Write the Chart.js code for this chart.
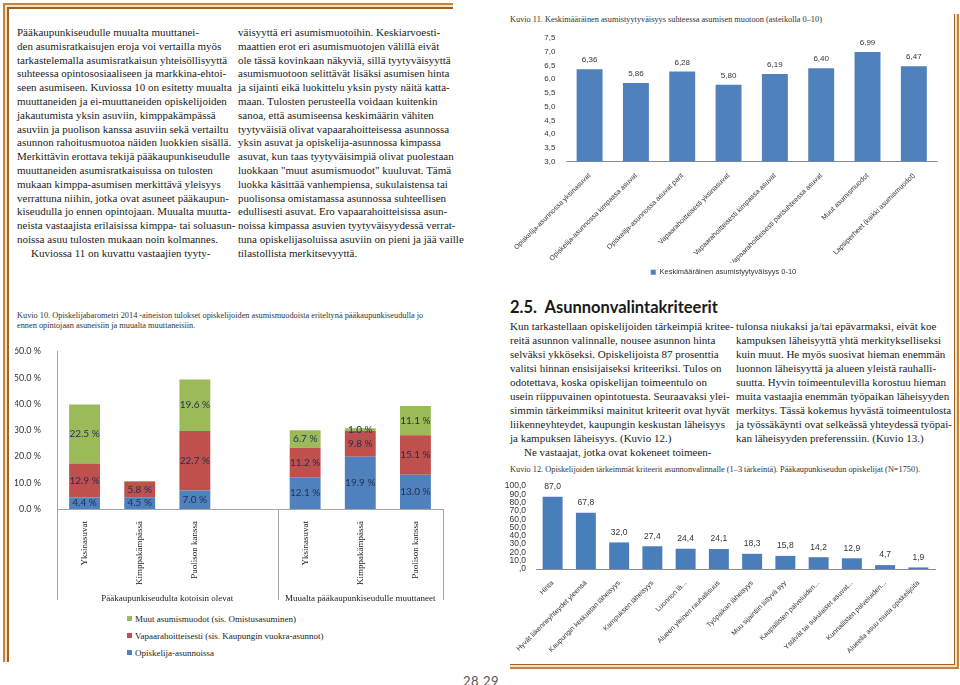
<!DOCTYPE html>
<html lang="fi">
<head>
<meta charset="utf-8">
<script src="https://cdn.jsdelivr.net/npm/chart.js@4.4.1/dist/chart.umd.min.js"></script>
<style>
html, body { margin: 0; padding: 0; background: #fff; }
body { width: 960px; height: 685px; position: relative; overflow: hidden; font-family: "Liberation Serif", serif; color: #222; }
.ln { position: absolute; }
.col { position: absolute; font-size: 11px; line-height: 13.8px; }
.col div { white-space: nowrap; }
.col div.i { padding-left: 14px; }
.cap { position: absolute; font-size: 8.3px; line-height: 9.5px; color: #333; white-space: nowrap; }
.box { position: absolute; }
h2 { position: absolute; margin: 0; font-family: Lato, sans-serif; font-weight: bold; font-size: 16.5px; color: #1a1a1a; white-space: pre; }
.pg { position: absolute; font-family: Lato, sans-serif; font-size: 13px; color: #555; letter-spacing: 0.5px; }
#k10legend { position: absolute; left: 127px; top: 611px; font-size: 9px; line-height: 17px; color: #222; }
#k10legend span.sw { display: inline-block; width: 5px; height: 5px; margin-right: 3px; vertical-align: 1px; }
</style>
</head>
<body>

<!-- kehykset -->
<div class="ln" style="left:3px;top:3px;width:450px;height:2px;background:#c4833c"></div>
<div class="ln" style="left:5px;top:5px;width:448px;height:2px;background:#f3e2bd"></div>
<div class="ln" style="left:7px;top:7px;width:446px;height:1.5px;background:#a35f22"></div>
<div class="ln" style="left:3px;top:3px;width:2px;height:659px;background:#c4833c"></div>
<div class="ln" style="left:5px;top:5px;width:2px;height:657px;background:#f3e2bd"></div>
<div class="ln" style="left:7px;top:7px;width:1.5px;height:655px;background:#a35f22"></div>

<div class="ln" style="left:957px;top:14px;width:2px;height:655px;background:#c4833c"></div>
<div class="ln" style="left:955px;top:14px;width:2px;height:653px;background:#f3e2bd"></div>
<div class="ln" style="left:953.5px;top:14px;width:1.5px;height:651px;background:#a35f22"></div>
<div class="ln" style="left:510px;top:667px;width:449px;height:2px;background:#c4833c"></div>
<div class="ln" style="left:510px;top:665px;width:447px;height:2px;background:#f3e2bd"></div>
<div class="ln" style="left:510px;top:663.5px;width:445px;height:1.5px;background:#a35f22"></div>

<div class="col" style="left:17px;top:26px">
<div>Pääkaupunkiseudulle muualta muuttanei-</div>
<div>den asumisratkaisujen eroja voi vertailla myös</div>
<div>tarkastelemalla asumisratkaisun yhteisöllisyyttä</div>
<div>suhteessa opintososiaaliseen ja markkina-ehtoi-</div>
<div>seen asumiseen. Kuviossa 10 on esitetty muualta</div>
<div>muuttaneiden ja ei-muuttaneiden opiskelijoiden</div>
<div>jakautumista yksin asuviin, kimppakämpässä</div>
<div>asuviin ja puolison kanssa asuviin sekä vertailtu</div>
<div>asunnon rahoitusmuotoa näiden luokkien sisällä.</div>
<div>Merkittävin erottava tekijä pääkaupunkiseudulle</div>
<div>muuttaneiden asumisratkaisuissa on tulosten</div>
<div>mukaan kimppa-asumisen merkittävä yleisyys</div>
<div>verrattuna niihin, jotka ovat asuneet pääkaupun-</div>
<div>kiseudulla jo ennen opintojaan. Muualta muutta-</div>
<div>neista vastaajista erilaisissa kimppa- tai soluasun-</div>
<div>noissa asuu tulosten mukaan noin kolmannes.</div>
<div class="i">Kuviossa 11 on kuvattu vastaajien tyyty-</div>
</div>

<div class="col" style="left:238px;top:26px">
<div>väisyyttä eri asumismuotoihin. Keskiarvoesti-</div>
<div>maattien erot eri asumismuotojen välillä eivät</div>
<div>ole tässä kovinkaan näkyviä, sillä tyytyväisyyttä</div>
<div>asumismuotoon selittävät lisäksi asumisen hinta</div>
<div>ja sijainti eikä luokittelu yksin pysty näitä katta-</div>
<div>maan. Tulosten perusteella voidaan kuitenkin</div>
<div>sanoa, että asumiseensa keskimäärin vähiten</div>
<div>tyytyväisiä olivat vapaarahoitteisessa asunnossa</div>
<div>yksin asuvat ja opiskelija-asunnossa kimpassa</div>
<div>asuvat, kun taas tyytyväisimpiä olivat puolestaan</div>
<div>luokkaan "muut asumismuodot" kuuluvat. Tämä</div>
<div>luokka käsittää vanhempiensa, sukulaistensa tai</div>
<div>puolisonsa omistamassa asunnossa suhteellisen</div>
<div>edullisesti asuvat. Ero vapaarahoitteisissa asun-</div>
<div>noissa kimpassa asuvien tyytyväisyydessä verrat-</div>
<div>tuna opiskelijasoluissa asuviin on pieni ja jää vaille</div>
<div>tilastollista merkitsevyyttä.</div>
</div>

<div class="cap" style="left:510px;top:15px">Kuvio 11. Keskimääräinen asumistyytyväisyys suhteessa asumisen muotoon (asteikolla 0–10)</div>
<div class="box" style="left:510px;top:28px"><canvas id="k11" width="440" height="262"></canvas></div>

<div class="cap" style="left:17px;top:311px">Kuvio 10. Opiskelijabarometri 2014 -aineiston tulokset opiskelijoiden asumismuodoista eriteltynä pääkaupunkiseudulla jo<br>ennen opintojaan asuneisiin ja muualta muuttaneisiin.</div>
<div class="box" style="left:15px;top:338px"><canvas id="k10" width="435" height="270"></canvas></div>
<div id="k10legend"></div>

<h2 style="left:510px;top:297px">2.5.  Asunnonvalintakriteerit</h2>

<div class="col" style="left:510px;top:319px;line-height:14px">
<div>Kun tarkastellaan opiskelijoiden tärkeimpiä kritee-</div>
<div>reitä asunnon valinnalle, nousee asunnon hinta</div>
<div>selväksi ykköseksi. Opiskelijoista 87 prosenttia</div>
<div>valitsi hinnan ensisijaiseksi kriteeriksi. Tulos on</div>
<div>odotettava, koska opiskelijan toimeentulo on</div>
<div>usein riippuvainen opintotuesta. Seuraavaksi ylei-</div>
<div>simmin tärkeimmiksi mainitut kriteerit ovat hyvät</div>
<div>liikenneyhteydet, kaupungin keskustan läheisyys</div>
<div>ja kampuksen läheisyys. (Kuvio 12.)</div>
<div class="i">Ne vastaajat, jotka ovat kokeneet toimeen-</div>
</div>

<div class="col" style="left:736px;top:319px;line-height:14px">
<div>tulonsa niukaksi ja/tai epävarmaksi, eivät koe</div>
<div>kampuksen läheisyyttä yhtä merkitykselliseksi</div>
<div>kuin muut. He myös suosivat hieman enemmän</div>
<div>luonnon läheisyyttä ja alueen yleistä rauhalli-</div>
<div>suutta. Hyvin toimeentulevilla korostuu hieman</div>
<div>muita vastaajia enemmän työpaikan läheisyyden</div>
<div>merkitys. Tässä kokemus hyvästä toimeentulosta</div>
<div>ja työssäkäynti ovat selkeässä yhteydessä työpai-</div>
<div>kan läheisyyden preferenssiin. (Kuvio 13.)</div>
</div>

<div class="cap" style="left:510px;top:465px">Kuvio 12. Opiskelijoiden tärkeimmät kriteerit asunnonvalinnalle (1–3 tärkeintä). Pääkaupunkiseudun opiskelijat (N=1750).</div>
<div class="box" style="left:505px;top:478px"><canvas id="k12" width="450" height="185"></canvas></div>

<div class="pg" style="left:463px;top:673px">28 29</div>

<script>
// Kuvio 11
const k11Labels = [
  "Opiskelija-asunnossa yksinasuvat",
  "Opiskelija-asunnossa kimpassa asuvat",
  "Opiskelija-asunnossa asuvat parit",
  "Vapaarahoitteisesti yksinasuvat",
  "Vapaarahoitteisesti kimpassa asuvat",
  "Vapaarahoitteisesti parisuhteessa asuvat",
  "Muut asumismuodot",
  "Lapsiperheet (kaikki asumismuodot)"
];
const k11Series = "Keskimääräinen asumistyytyväisyys 0-10";
const k11Values = [6.36, 5.86, 6.28, 5.80, 6.19, 6.40, 6.99, 6.47];
const k11Ticks = [3.0, 3.5, 4.0, 4.5, 5.0, 5.5, 6.0, 6.5, 7.0, 7.5];

// Kuvio 10
const k10Labels = ["Yksinasuvat", "Kimppakämpässä", "Puolison kanssa", "", "Yksinasuvat", "Kimppakämpässä", "Puolison kanssa"];
const k10Groups = ["Pääkaupunkiseudulta kotoisin olevat", "Muualta pääkaupunkiseudulle muuttaneet"];
const k10Opiskelija = [4.4, 4.5, 7.0, null, 12.1, 19.9, 13.0];
const k10Vapaa = [12.9, 5.8, 22.7, null, 11.2, 9.8, 15.1];
const k10Muut = [22.5, 0.4, 19.6, null, 6.7, 1.0, 11.1];
const k10Ticks = [0, 10, 20, 30, 40, 50, 60];

// Kuvio 12
const k12Labels = [
  "Hinta",
  "Hyvät liikenneyhteydet yleensä",
  "Kaupungin keskustan läheisyys",
  "Kampuksen läheisyys",
  "Luonnon lä...",
  "Alueen yleinen rauhallisuus",
  "Työpaikan läheisyys",
  "Muu sijaintiin liittyvä syy",
  "Kaupallisten palveluiden...",
  "Ystävät tai sukulaiset asuvat...",
  "Kunnallisten palveluiden...",
  "Alueella asuu muita opiskelijoita"
];
const k12Values = [87.0, 67.8, 32.0, 27.4, 24.4, 24.1, 18.3, 15.8, 14.2, 12.9, 4.7, 1.9];
const k12Ticks = [0, 10, 20, 30, 40, 50, 60, 70, 80, 90, 100];

const fi = (v, d) => Number(v).toFixed(d).replace(".", ",");
const setTicks = list => s => { s.ticks = list.map(v => ({value: v})); };

Chart.defaults.font.family = "'Liberation Sans', Arial, sans-serif";
Chart.defaults.color = "#333";
Chart.defaults.animation = false;
Chart.defaults.plugins.tooltip.enabled = false;

// arvot pylväiden päälle / sisään
function valueLabels(o) {
  return {
    id: "valueLabels",
    afterDatasetsDraw(chart) {
      const ctx = chart.ctx;
      ctx.save();
      ctx.font = o.font;
      ctx.fillStyle = o.color;
      ctx.textAlign = "center";
      ctx.textBaseline = "middle";
      chart.data.datasets.forEach((ds, i) => {
        chart.getDatasetMeta(i).data.forEach((bar, j) => {
          const v = ds.data[j];
          if (v == null || v < (o.min || 0)) return;
          const y = o.inside ? (bar.y + bar.base) / 2 : bar.y - o.offset;
          ctx.fillText(o.format(v), bar.x, y);
        });
      });
      ctx.restore();
    }
  };
}

new Chart(document.getElementById("k11"), {
  type: "bar",
  data: {
    labels: k11Labels,
    datasets: [{label: k11Series, data: k11Values, backgroundColor: "#4f81bd",
                categoryPercentage: 1, barPercentage: 0.56}]
  },
  options: {
    responsive: false,
    layout: {padding: {top: 10, right: 13, bottom: 4, left: 0}},
    plugins: {
      legend: {position: "bottom", labels: {boxWidth: 5, boxHeight: 5, padding: 6, color: "#333", font: {size: 7.5}}}
    },
    scales: {
      x: {grid: {display: false}, border: {color: "#8c8c8c"},
          ticks: {minRotation: 45, maxRotation: 45, autoSkip: false, padding: 2, color: "#333", font: {size: 7}},
          afterFit: s => { s.height = 101; }},
      y: {min: 3, max: 7.5, grid: {display: false}, border: {display: false},
          ticks: {padding: 3, color: "#333", font: {size: 8}, callback: v => fi(v, 1)},
          afterBuildTicks: setTicks(k11Ticks),
          afterFit: s => { s.width = 53; }}
    }
  },
  plugins: [valueLabels({font: "8px 'Liberation Sans'", color: "#333", offset: 9, format: v => fi(v, 2)})]
});

const k10Frame = {
  id: "k10Frame",
  afterDraw(chart) {
    const {ctx, chartArea: a, scales: {x}} = chart;
    const mid = (x.getPixelForValue(3) + x.getPixelForValue(4)) / 2;
    ctx.save();
    ctx.strokeStyle = "#a6a6a6";
    ctx.lineWidth = 1;
    [a.left, mid, a.right].forEach(px => {
      const p = Math.round(px) + 0.5;
      ctx.beginPath(); ctx.moveTo(p, a.bottom); ctx.lineTo(p, a.bottom + 91); ctx.stroke();
    });
    ctx.font = "9px 'Liberation Serif'";
    ctx.fillStyle = "#222";
    ctx.textAlign = "center";
    ctx.textBaseline = "middle";
    ctx.fillText(k10Groups[0], (a.left + mid) / 2, a.bottom + 90);
    ctx.fillText(k10Groups[1], (mid + a.right) / 2, a.bottom + 90);
    ctx.restore();
  }
};

const k10 = new Chart(document.getElementById("k10"), {
  type: "bar",
  data: {
    labels: k10Labels,
    datasets: [
      {label: "Opiskelija-asunnoissa", data: k10Opiskelija, backgroundColor: "#4f81bd"},
      {label: "Vapaarahoitteisesti (sis. Kaupungin vuokra-asunnot)", data: k10Vapaa, backgroundColor: "#c0504d"},
      {label: "Muut asumismuodot (sis. Omistusasuminen)", data: k10Muut, backgroundColor: "#9bbb59"}
    ]
  },
  options: {
    responsive: false,
    datasets: {bar: {categoryPercentage: 1, barPercentage: 0.56}},
    layout: {padding: {top: 8, right: 7, bottom: 0, left: 0}},
    plugins: {legend: {display: false}},
    scales: {
      x: {stacked: true, grid: {display: false}, border: {color: "#a6a6a6"},
          ticks: {minRotation: 90, maxRotation: 90, autoSkip: false, padding: 4, color: "#222",
                  font: {family: "'Liberation Serif'", size: 9}},
          afterFit: s => { s.height = 99; }},
      y: {stacked: true, min: 0, max: 60, grid: {display: false}, border: {color: "#a6a6a6"},
          ticks: {padding: 8, color: "#333", font: {family: "Lato", size: 9}, callback: v => v.toFixed(1) + " %"},
          afterBuildTicks: setTicks(k10Ticks),
          afterFit: s => { s.width = 42; }}
    }
  },
  plugins: [k10Frame, valueLabels({font: "10px Lato", color: "#1f2f4f", inside: true, min: 0.5, format: v => v.toFixed(1) + " %"})]
});

// selite pystysuunnassa, järjestys kuten alkuperäisessä
document.getElementById("k10legend").innerHTML = k10.data.datasets.slice().reverse()
  .map(d => `<div><span class="sw" style="background:${d.backgroundColor}"></span>${d.label}</div>`).join("");

new Chart(document.getElementById("k12"), {
  type: "bar",
  data: {
    labels: k12Labels,
    datasets: [{label: "%", data: k12Values, backgroundColor: "#4a7ebb", categoryPercentage: 1, barPercentage: 0.6}]
  },
  options: {
    responsive: false,
    layout: {padding: {top: 8, right: 20, bottom: 0, left: 0}},
    plugins: {legend: {display: false}},
    scales: {
      x: {grid: {display: false}, border: {color: "#8c8c8c"},
          ticks: {minRotation: 45, maxRotation: 45, autoSkip: false, padding: 2, color: "#333", font: {size: 7}},
          afterFit: s => { s.height = 94; }},
      y: {min: 0, max: 100, grid: {display: false}, border: {display: false},
          ticks: {padding: 2, autoSkip: false, color: "#333", font: {size: 8.5}, callback: v => v === 0 ? ",0" : fi(v, 1)},
          afterBuildTicks: setTicks(k12Ticks),
          afterFit: s => { s.width = 31; }}
    }
  },
  plugins: [valueLabels({font: "8.5px 'Liberation Sans'", color: "#333", offset: 10, format: v => fi(v, 1)})]
});
</script>
</body>
</html>
